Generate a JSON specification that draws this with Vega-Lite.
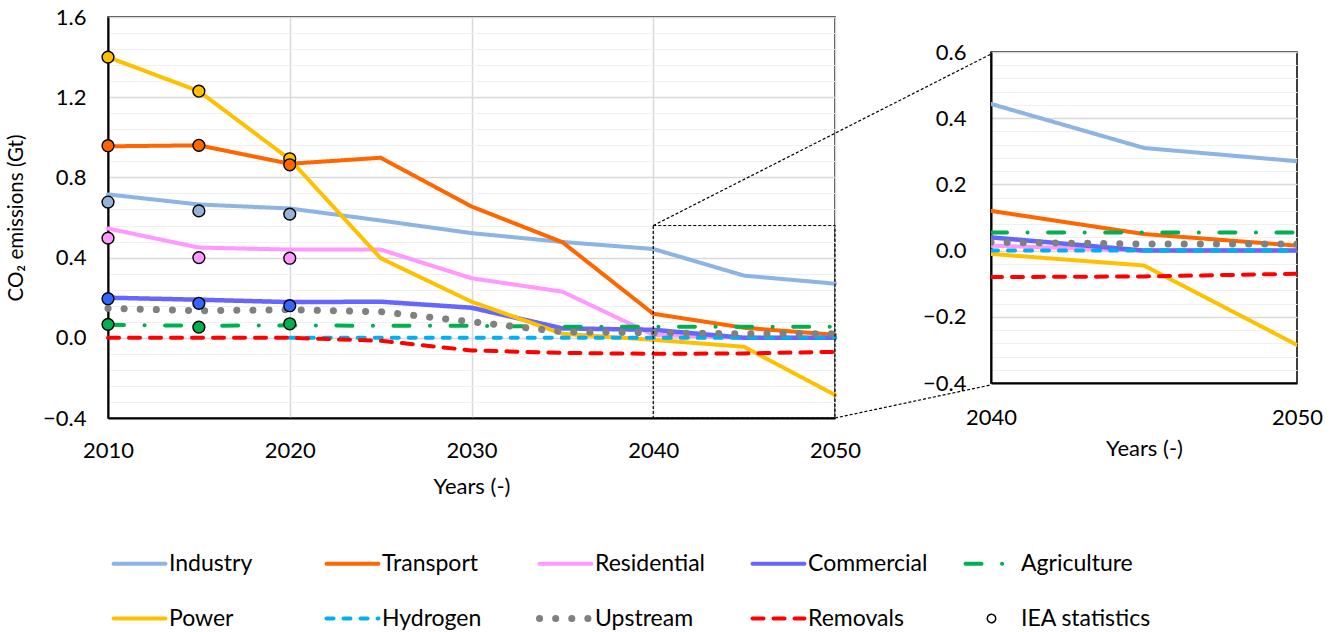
{
  "$schema": "https://vega.github.io/schema/vega-lite/v6.json",
  "background": "white",
  "padding": {"left": 5, "top": 5, "right": 5, "bottom": 5},
  "config": {
    "font": "Lato",
    "view": {"stroke": "black", "strokeWidth": 1.5},
    "axis": {"labelFont": "Lato", "titleFont": "Lato", "labelColor": "#000", "titleColor": "#000", "labelFontSize": 22, "titleFontSize": 22, "titleFontWeight": "normal", "ticks": false, "labelFlush": false, "labelOverlap": false, "domainColor": "#000", "domainWidth": 2, "gridColor": "#d9d9d9", "gridWidth": 1.5},
    "legend": {"labelFont": "Lato", "labelFontSize": 23, "labelColor": "#000", "labelLimit": 400}
  },
  "datasets": {
    "emissions": [
      {"year": 2010, "series": "Industry", "value": 0.715},
      {"year": 2015, "series": "Industry", "value": 0.665},
      {"year": 2020, "series": "Industry", "value": 0.645},
      {"year": 2025, "series": "Industry", "value": 0.585},
      {"year": 2030, "series": "Industry", "value": 0.522},
      {"year": 2035, "series": "Industry", "value": 0.478},
      {"year": 2040, "series": "Industry", "value": 0.443},
      {"year": 2045, "series": "Industry", "value": 0.31},
      {"year": 2050, "series": "Industry", "value": 0.27},
      {"year": 2010, "series": "Transport", "value": 0.955},
      {"year": 2015, "series": "Transport", "value": 0.96},
      {"year": 2020, "series": "Transport", "value": 0.868},
      {"year": 2025, "series": "Transport", "value": 0.898},
      {"year": 2030, "series": "Transport", "value": 0.655},
      {"year": 2035, "series": "Transport", "value": 0.477},
      {"year": 2040, "series": "Transport", "value": 0.12},
      {"year": 2045, "series": "Transport", "value": 0.05},
      {"year": 2050, "series": "Transport", "value": 0.015},
      {"year": 2010, "series": "Residential", "value": 0.545},
      {"year": 2015, "series": "Residential", "value": 0.45},
      {"year": 2020, "series": "Residential", "value": 0.44},
      {"year": 2025, "series": "Residential", "value": 0.44},
      {"year": 2030, "series": "Residential", "value": 0.297},
      {"year": 2035, "series": "Residential", "value": 0.23},
      {"year": 2040, "series": "Residential", "value": 0.015},
      {"year": 2045, "series": "Residential", "value": 0.0},
      {"year": 2050, "series": "Residential", "value": 0.0},
      {"year": 2010, "series": "Commercial", "value": 0.2},
      {"year": 2015, "series": "Commercial", "value": 0.19},
      {"year": 2020, "series": "Commercial", "value": 0.178},
      {"year": 2025, "series": "Commercial", "value": 0.18},
      {"year": 2030, "series": "Commercial", "value": 0.15},
      {"year": 2035, "series": "Commercial", "value": 0.047},
      {"year": 2040, "series": "Commercial", "value": 0.04},
      {"year": 2045, "series": "Commercial", "value": 0.0},
      {"year": 2050, "series": "Commercial", "value": 0.0},
      {"year": 2010, "series": "Agriculture", "value": 0.065},
      {"year": 2015, "series": "Agriculture", "value": 0.06},
      {"year": 2020, "series": "Agriculture", "value": 0.062},
      {"year": 2025, "series": "Agriculture", "value": 0.06},
      {"year": 2030, "series": "Agriculture", "value": 0.06},
      {"year": 2035, "series": "Agriculture", "value": 0.055},
      {"year": 2040, "series": "Agriculture", "value": 0.055},
      {"year": 2045, "series": "Agriculture", "value": 0.055},
      {"year": 2050, "series": "Agriculture", "value": 0.055},
      {"year": 2010, "series": "Power", "value": 1.4},
      {"year": 2015, "series": "Power", "value": 1.23},
      {"year": 2020, "series": "Power", "value": 0.89},
      {"year": 2025, "series": "Power", "value": 0.397},
      {"year": 2030, "series": "Power", "value": 0.18},
      {"year": 2035, "series": "Power", "value": 0.02},
      {"year": 2040, "series": "Power", "value": -0.01},
      {"year": 2045, "series": "Power", "value": -0.045},
      {"year": 2050, "series": "Power", "value": -0.285},
      {"year": 2020, "series": "Hydrogen", "value": 0.0},
      {"year": 2025, "series": "Hydrogen", "value": 0.0},
      {"year": 2030, "series": "Hydrogen", "value": 0.0},
      {"year": 2035, "series": "Hydrogen", "value": 0.0},
      {"year": 2040, "series": "Hydrogen", "value": 0.0},
      {"year": 2045, "series": "Hydrogen", "value": 0.0},
      {"year": 2050, "series": "Hydrogen", "value": 0.0},
      {"year": 2010, "series": "Upstream", "value": 0.147},
      {"year": 2015, "series": "Upstream", "value": 0.135},
      {"year": 2020, "series": "Upstream", "value": 0.14},
      {"year": 2025, "series": "Upstream", "value": 0.13},
      {"year": 2030, "series": "Upstream", "value": 0.08},
      {"year": 2035, "series": "Upstream", "value": 0.03},
      {"year": 2040, "series": "Upstream", "value": 0.025},
      {"year": 2045, "series": "Upstream", "value": 0.02},
      {"year": 2050, "series": "Upstream", "value": 0.02},
      {"year": 2010, "series": "Removals", "value": 0.0},
      {"year": 2015, "series": "Removals", "value": 0.0},
      {"year": 2020, "series": "Removals", "value": 0.0},
      {"year": 2025, "series": "Removals", "value": -0.015},
      {"year": 2030, "series": "Removals", "value": -0.063},
      {"year": 2035, "series": "Removals", "value": -0.075},
      {"year": 2040, "series": "Removals", "value": -0.08},
      {"year": 2045, "series": "Removals", "value": -0.078},
      {"year": 2050, "series": "Removals", "value": -0.07}
    ],
    "iea": [
      {"year": 2010, "series": "Power", "value": 1.4},
      {"year": 2015, "series": "Power", "value": 1.23},
      {"year": 2020, "series": "Power", "value": 0.893},
      {"year": 2010, "series": "Transport", "value": 0.958},
      {"year": 2015, "series": "Transport", "value": 0.96},
      {"year": 2020, "series": "Transport", "value": 0.863},
      {"year": 2010, "series": "Industry", "value": 0.677},
      {"year": 2015, "series": "Industry", "value": 0.633},
      {"year": 2020, "series": "Industry", "value": 0.617},
      {"year": 2010, "series": "Residential", "value": 0.497},
      {"year": 2015, "series": "Residential", "value": 0.4},
      {"year": 2020, "series": "Residential", "value": 0.397},
      {"year": 2010, "series": "Commercial", "value": 0.195},
      {"year": 2015, "series": "Commercial", "value": 0.172},
      {"year": 2020, "series": "Commercial", "value": 0.16},
      {"year": 2010, "series": "Agriculture", "value": 0.067},
      {"year": 2015, "series": "Agriculture", "value": 0.053},
      {"year": 2020, "series": "Agriculture", "value": 0.07}
    ]
  },
  "spacing": 156,
  "bounds": "flush",
  "center": true,
  "hconcat": [
    {
      "width": 727,
      "height": 401,
      "layer": [
        {
          "data": {"name": "emissions"},
          "mark": {"type": "line", "opacity": 0},
          "encoding": {
            "x": {"field": "year", "type": "quantitative", "scale": {"domain": [2010, 2050], "nice": false}},
            "y": {"field": "value", "type": "quantitative", "scale": {"domain": [-0.4, 1.6], "nice": false}, "axis": {"orient": "right", "labels": false, "domain": false, "title": null, "grid": true, "gridColor": "#f0f0f0", "gridWidth": 1.2, "values": [-0.32, -0.24, -0.16, -0.08, 0.08, 0.16, 0.24, 0.32, 0.48, 0.56, 0.64, 0.72, 0.88, 0.96, 1.04, 1.12, 1.28, 1.36, 1.44, 1.52]}}
          }
        },
        {
          "data": {"name": "emissions"},
          "mark": {"type": "line", "strokeCap": "round", "strokeJoin": "round"},
          "encoding": {
            "x": {"field": "year", "type": "quantitative", "scale": {"domain": [2010, 2050], "nice": false}, "axis": {"values": [2010, 2020, 2030, 2040, 2050], "format": "d", "grid": true, "labelPadding": 22, "title": "Years (-)", "titlePadding": 15}},
            "y": {"field": "value", "type": "quantitative", "scale": {"domain": [-0.4, 1.6], "nice": false}, "axis": {"orient": "left", "values": [-0.4, 0, 0.4, 0.8, 1.2, 1.6], "format": ".1f", "grid": true, "labelPadding": 22, "title": "CO₂ emissions (Gt)", "titleFontSize": 20.5, "titlePadding": 16}},
            "color": {
              "field": "series", "type": "nominal",
              "scale": {"domain": ["Industry", "Transport", "Residential", "Commercial", "Agriculture", "Power", "Hydrogen", "Upstream", "Removals", "IEA statistics"], "range": ["#8db4e2", "#ff6600", "#ff99ff", "#6666ff", "#00b050", "#ffc000", "#00b0f0", "#808080", "#ff0000", "#000000"]},
              "legend": {
                "title": null, "orient": "bottom", "direction": "horizontal", "columns": 5, "gridAlign": "all", "columnPadding": 13, "rowPadding": 27, "offset": 33, "padding": 20,
                "symbolType": "stroke", "symbolSize": 2700, "symbolStrokeWidth": 4, "labelOffset": 18,
                "encode": {"symbols": {"update": {
                  "shape": {"signal": "datum.value === 'IEA statistics' ? 'circle' : 'stroke'"},
                  "size": {"signal": "datum.value === 'IEA statistics' ? 70 : 2700"},
                  "strokeWidth": {"signal": "datum.value === 'IEA statistics' ? 1.5 : datum.value === 'Upstream' ? 7 : 4"},
                  "strokeCap": {"value": "round"},
                  "fill": {"value": "transparent"}
                }}}
              }
            },
            "strokeDash": {
              "field": "series", "type": "nominal",
              "scale": {"domain": ["Industry", "Transport", "Residential", "Commercial", "Agriculture", "Power", "Hydrogen", "Upstream", "Removals", "IEA statistics"], "range": [[1, 0], [1, 0], [1, 0], [1, 0], [16, 20.5, 0.1, 20.5], [1, 0], [7, 10], [0.1, 16], [11, 10], [1, 0]]}
            },
            "strokeWidth": {
              "field": "series", "type": "nominal", "legend": null,
              "scale": {"type": "ordinal", "domain": ["Industry", "Transport", "Residential", "Commercial", "Agriculture", "Power", "Hydrogen", "Upstream", "Removals"], "range": [4, 4, 4, 4.5, 4, 4, 4, 7, 4]}
            }
          }
        },
        {
          "data": {"name": "iea"},
          "mark": {"type": "point", "filled": true, "size": 140, "stroke": "#000", "strokeWidth": 1.4, "opacity": 1},
          "encoding": {
            "x": {"field": "year", "type": "quantitative"},
            "y": {"field": "value", "type": "quantitative", "axis": null},
            "fill": {"field": "series", "type": "nominal", "legend": null, "scale": {"domain": ["Industry", "Transport", "Residential", "Commercial", "Agriculture", "Power"], "range": ["#95b3d7", "#ff6600", "#ff99ff", "#3366ff", "#00b050", "#ffc000"]}}
          }
        },
        {
          "data": {"values": [{}]},
          "mark": {"type": "rect", "fill": null, "stroke": "#000", "strokeWidth": 1.2, "strokeDash": [3, 2]},
          "encoding": {"x": {"datum": 2040}, "x2": {"datum": 2050}, "y": {"datum": 0.56, "axis": null}, "y2": {"datum": -0.4}}
        },
        {
          "data": {"values": [{}]},
          "mark": {"type": "rule", "stroke": "#000", "strokeWidth": 1.2, "strokeDash": [3, 2]},
          "encoding": {"x": {"datum": 2040}, "y": {"datum": 0.56, "axis": null}, "x2": {"datum": 2058.58}, "y2": {"datum": 1.415}}
        },
        {
          "data": {"values": [{}]},
          "mark": {"type": "rule", "stroke": "#000", "strokeWidth": 1.2, "strokeDash": [3, 2]},
          "encoding": {"x": {"datum": 2050}, "y": {"datum": -0.4, "axis": null}, "x2": {"datum": 2058.58}, "y2": {"datum": -0.235}}
        }
      ],
      "resolve": {"axis": {"y": "independent"}}
    },
    {
      "width": 306,
      "height": 331,
      "data": {"name": "emissions"},
      "transform": [{"filter": "datum.year >= 2040"}],
      "layer": [
        {
          "mark": {"type": "line", "opacity": 0},
          "encoding": {
            "x": {"field": "year", "type": "quantitative", "scale": {"domain": [2040, 2050], "nice": false}},
            "y": {"field": "value", "type": "quantitative", "scale": {"domain": [-0.4, 0.6], "nice": false}, "axis": {"orient": "right", "labels": false, "domain": false, "title": null, "grid": true, "gridColor": "#f0f0f0", "gridWidth": 1.2, "values": [-0.36, -0.32, -0.28, -0.24, -0.16, -0.12, -0.08, -0.04, 0.04, 0.08, 0.12, 0.16, 0.24, 0.28, 0.32, 0.36, 0.44, 0.48, 0.52, 0.56]}}
          }
        },
        {
          "mark": {"type": "line", "strokeCap": "round", "strokeJoin": "round", "clip": true},
          "encoding": {
            "x": {"field": "year", "type": "quantitative", "scale": {"domain": [2040, 2050], "nice": false}, "axis": {"values": [2040, 2050], "format": "d", "grid": false, "labelPadding": 24, "title": "Years (-)", "titlePadding": 10}},
            "y": {"field": "value", "type": "quantitative", "scale": {"domain": [-0.4, 0.6], "nice": false}, "axis": {"orient": "left", "values": [-0.4, -0.2, 0, 0.2, 0.4, 0.6], "format": ".1f", "grid": true, "labelPadding": 25, "title": null}},
            "color": {"field": "series", "type": "nominal"},
            "strokeDash": {"field": "series", "type": "nominal"},
            "strokeWidth": {
              "field": "series", "type": "nominal", "legend": null,
              "scale": {"type": "ordinal", "domain": ["Industry", "Transport", "Residential", "Commercial", "Agriculture", "Power", "Hydrogen", "Upstream", "Removals"], "range": [4, 4, 4, 4.5, 4, 4, 4, 7, 4]}
            }
          }
        }
      ],
      "resolve": {"axis": {"y": "independent"}}
    }
  ]
}
